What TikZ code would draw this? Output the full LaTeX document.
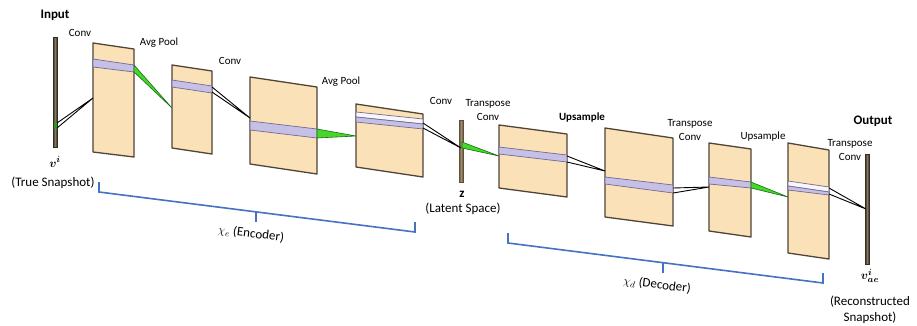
\documentclass[tikz,border=0pt]{standalone}
\usepackage{amsmath,bm}
\usepackage{fontspec}
\setmainfont{Carlito}
\definecolor{platefill}{RGB}{250,225,184}
\definecolor{plateedge}{RGB}{80,68,55}
\definecolor{stripefill}{RGB}{198,192,230}
\definecolor{stripeedge}{RGB}{115,105,145}
\definecolor{wedgegreen}{RGB}{70,215,45}
\definecolor{wedgeedge}{RGB}{25,110,20}
\definecolor{bracketblue}{RGB}{68,114,196}
\definecolor{bardark}{RGB}{48,44,40}
\definecolor{barmid}{RGB}{135,120,88}
\definecolor{zdark}{RGB}{95,80,62}
\definecolor{zmid}{RGB}{160,140,108}
\tikzset{
  platebox/.style={fill=platefill,draw=plateedge,line width=1.3pt,line join=round},
  stripebox/.style={fill=stripefill,draw=stripeedge,line width=0.7pt},
  whitebox/.style={fill=white!85!stripefill,draw=stripeedge,line width=0.7pt},
  conn/.style={draw=black,line width=0.9pt},
  wedge/.style={fill=wedgegreen,draw=wedgeedge,line width=0.6pt,line join=round},
  bracket/.style={draw=bracketblue,line width=1.6pt,line join=miter},
  lbl/.style={font=\fontsize{11}{14}\selectfont,align=center,inner sep=0pt},
  lblb/.style={font=\fontsize{11}{14}\selectfont\bfseries,align=center,inner sep=0pt},
  big/.style={font=\fontsize{13}{16}\selectfont,align=center,inner sep=0pt},
  bigb/.style={font=\fontsize{13}{16}\selectfont\bfseries,align=center,inner sep=0pt},
}
% plate: name, xl, ytl, ybl, xr, ytr, ybr
\newcommand\myplate[7]{%
  \coordinate (#1-tl) at (#2,#3); \coordinate (#1-bl) at (#2,#4);
  \coordinate (#1-tr) at (#5,#6); \coordinate (#1-br) at (#5,#7);
  \draw[platebox] (#1-tl) -- (#1-tr) -- (#1-br) -- (#1-bl) -- cycle;}
% stripe: xl, yl1, yl2, xr, yr1, yr2
\newcommand\mystripe[6]{%
  \draw[stripebox] (#1,#2) -- (#4,#5) -- (#4,#6) -- (#1,#3) -- cycle;}
% stripe with white top: xl, y1, y2, y3, xr, y1, y2, y3
\newcommand\mywstripe[8]{%
  \draw[whitebox] (#1,#2) -- (#5,#6) -- (#5,#7) -- (#1,#3) -- cycle;
  \draw[stripebox] (#1,#3) -- (#5,#7) -- (#5,#8) -- (#1,#4) -- cycle;}
\begin{document}
\begin{tikzpicture}[x=1pt,y=-1pt]
\useasboundingbox (0,0) rectangle (917,325);

% ---- input bar
\shade[left color=bardark,right color=bardark,middle color=barmid] (53,37) rectangle (57,147);
\draw[bardark,line width=0.6pt] (53,37) rectangle (57,147);
\fill[wedgegreen!70!black] (53.5,122) rectangle (56.5,129);

% ---- plates (encoder)
\myplate{p1}{93}{43}{152}{134}{49}{157}
\mystripe{93}{59}{67}{134}{65}{72}
\myplate{p2}{172}{65}{148}{212}{71}{154}
\mystripe{172}{80}{87}{212}{86}{93}
\myplate{p3}{250}{77}{164}{317}{87}{174}
\mystripe{250}{121}{130}{317}{129}{138}
\myplate{p4}{356}{104}{167}{423}{114}{177}
\mywstripe{356}{112}{117}{122}{423}{119}{124}{129}

% ---- latent bar
\shade[left color=zdark,right color=zdark,middle color=zmid] (459,120) rectangle (463,182);
\draw[zdark,line width=0.6pt] (459,120) rectangle (463,182);

% ---- plates (decoder)
\myplate{p5}{499}{125}{188}{567}{134}{197}
\mystripe{499}{147}{154}{567}{155}{162}
\myplate{p6}{605}{128}{217}{673}{138}{226}
\mystripe{605}{177}{184}{673}{185}{193}
\myplate{p7}{709}{143}{231}{751}{149}{237}
\mystripe{709}{177}{184}{751}{182}{188}
\myplate{p8}{788}{143}{253}{829}{150}{259}
\mywstripe{788}{181}{186}{190}{829}{187}{192}{195}

% ---- output bar
\shade[left color=bardark,right color=bardark,middle color=barmid] (865,154) rectangle (869,264);
\draw[bardark,line width=0.6pt] (865,154) rectangle (869,264);

% ---- connector coordinates
\coordinate (in-a) at (57,123); \coordinate (in-b) at (57,128); \coordinate (p1-t) at (93,98);
\coordinate (p1-a) at (134,65); \coordinate (p1-b) at (134,72); \coordinate (p2-t) at (172,108);
\coordinate (p2-a) at (212,87); \coordinate (p2-b) at (212,92); \coordinate (p3-t) at (250,118);
\coordinate (p3-a) at (317,129); \coordinate (p3-b) at (317,138); \coordinate (p4-t) at (356,136);
\coordinate (p4-a) at (423,123); \coordinate (p4-b) at (423,128); \coordinate (z-t) at (461,148);
\coordinate (z-a) at (462,142); \coordinate (z-b) at (462,148); \coordinate (p5-t) at (499,156);
\coordinate (p5-a) at (567,156); \coordinate (p5-b) at (567,162); \coordinate (p6-t) at (605,171);
\coordinate (p6-a) at (673,188); \coordinate (p6-b) at (673,193); \coordinate (p7-t) at (709,187);
\coordinate (p7-a) at (751,182); \coordinate (p7-b) at (751,188); \coordinate (p8-t) at (788,197);
\coordinate (p8-a) at (829,188); \coordinate (p8-b) at (829,194); \coordinate (out-t) at (866,209);

% ---- connectors
\draw[conn] (in-a) -- (p1-t) -- (in-b);
\draw[wedge] (p1-a) -- (p2-t) -- (p1-b) -- cycle;
\draw[conn] (p2-a) -- (p3-t) -- (p2-b);
\draw[wedge] (p3-a) -- (p4-t) -- (p3-b) -- cycle;
\draw[conn] (p4-a) -- (z-t) -- (p4-b);
\draw[wedge] (z-a) -- (p5-t) -- (z-b) -- cycle;
\draw[conn] (p5-a) -- (p6-t) -- (p5-b);
\draw[conn] (p6-a) -- (p7-t) -- (p6-b);
\draw[wedge] (p7-a) -- (p8-t) -- (p7-b) -- cycle;
\draw[conn] (p8-a) -- (out-t) -- (p8-b);

% ---- brackets
\coordinate (eb1) at (99,182); \coordinate (eb2) at (99,192);
\coordinate (eb3) at (415,232); \coordinate (eb4) at (415,222);
\coordinate (et1) at (256,212); \coordinate (et2) at (256,222);
\draw[bracket] (eb1) -- (eb2) -- (eb3) -- (eb4);
\draw[bracket] (et1) -- (et2);
\coordinate (db1) at (508,233); \coordinate (db2) at (508,243);
\coordinate (db3) at (823,283); \coordinate (db4) at (823,273);
\coordinate (dt1) at (663,263); \coordinate (dt2) at (663,273);
\draw[bracket] (db1) -- (db2) -- (db3) -- (db4);
\draw[bracket] (dt1) -- (dt2);

% ---- labels
\node[bigb] (linput) at (55,15) {Input};
\node[lbl] (l1) at (80,33) {Conv};
\node[lbl] (l2) at (159,43) {Avg Pool};
\node[lbl] (l3) at (230,61) {Conv};
\node[lbl] (l4) at (341,82) {Avg Pool};
\node[lbl] (l5) at (441,101) {Conv};
\node[lbl] (l6) at (488,110) {Transpose\\Conv};
\node[lblb] (l7) at (582,117) {Upsample};
\node[lbl] (l8) at (690,130) {Transpose\\Conv};
\node[lbl] (l9) at (763,137) {Upsample};
\node[lbl] (l10) at (850,150) {Transpose\\Conv};
\node[bigb] (loutput) at (873,121) {Output};
\node[big] (lvi) at (55,162) {$\bm{v}^{\bm{i}}$};
\node[big] (ltrue) at (53,183) {(True Snapshot)};
\node[bigb] (lz) at (462,194) {z};
\node[big] (llat) at (463,209) {(Latent Space)};
\node[big] (lvae) at (870,276) {$\bm{v}^{\bm{i}}_{\bm{ae}}$};
\node[big] (lrec) at (870,310) {(Reconstructed\\Snapshot)};
\node[big,rotate=-7] (lenc) at (251,234) {$\chi_e$ (Encoder)};
\node[big,rotate=-7] (ldec) at (657,285) {$\chi_d$ (Decoder)};
\end{tikzpicture}
\end{document}
